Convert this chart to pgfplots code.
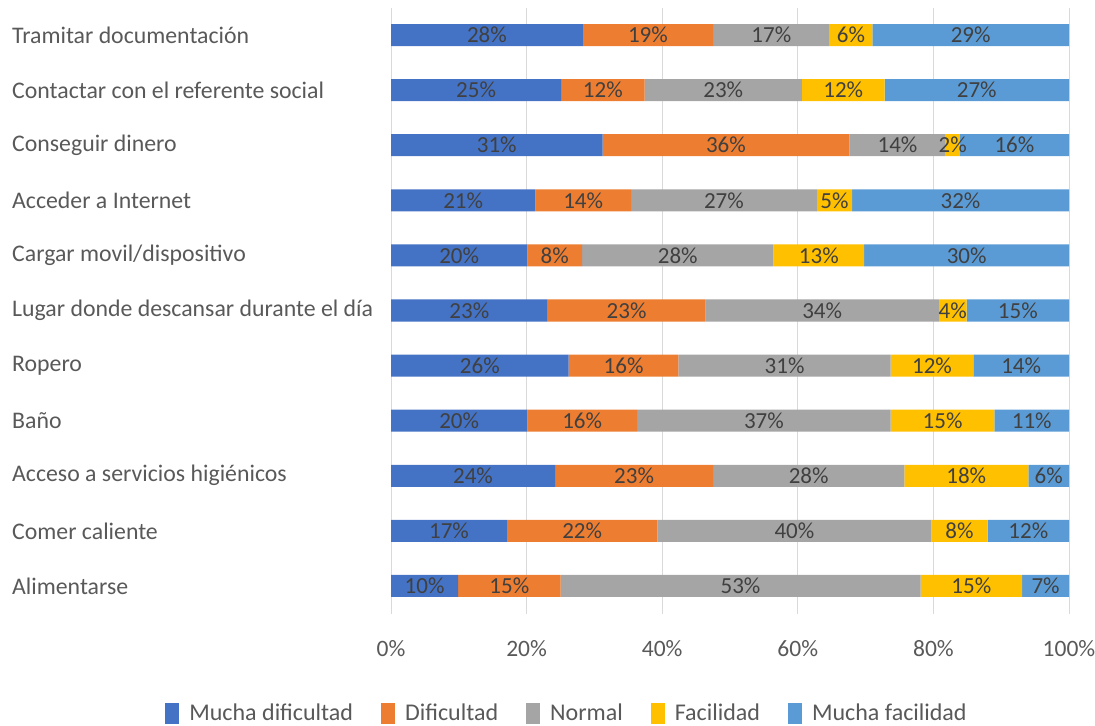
\documentclass[border=0pt]{standalone}
\usepackage{pgfplots}
\pgfplotsset{compat=1.18}
\usepackage{pgfplotstable}
\usepackage{fontspec}
\setmainfont{Carlito}
\definecolor{cA}{HTML}{4472C4}
\definecolor{cB}{HTML}{ED7D31}
\definecolor{cC}{HTML}{A5A5A5}
\definecolor{cD}{HTML}{FFC000}
\definecolor{cE}{HTML}{5B9BD5}
\definecolor{txt}{HTML}{595959}
\definecolor{lbl}{HTML}{404040}
\definecolor{grd}{HTML}{D9D9D9}
\pgfplotstableread{
idx md d n f mf
0 28.3 19.2 17.2 6.3 29.0
1 25.1 12.3 23.2 12.2 27.2
2 31.2 36.4 14.2 2.1 16.1
3 21.3 14.1 27.4 5.2 32.0
4 20.1 8.1 28.2 13.4 30.2
5 23.1 23.3 34.4 4.1 15.1
6 26.2 16.2 31.3 12.2 14.1
7 20.1 16.2 37.4 15.3 11.0
8 24.2 23.3 28.2 18.3 6.0
9 17.1 22.2 40.4 8.3 12.0
10 9.9 15.1 53.1 15.0 6.9
}\datatab
\begin{document}
\begin{tikzpicture}
\path[use as bounding box] (0,0) rectangle (1095bp,726bp);
\begin{axis}[
  at={(391bp,112.5bp)}, anchor=south west,
  scale only axis, width=678bp, height=606bp,
  xbar stacked, bar width=0.4,
  xmin=0, xmax=100, ymin=-0.5, ymax=10.5, y dir=reverse,
  axis line style={draw=none},
  xtick={0,20,...,100}, xmajorgrids, grid style={grd, line width=1bp},
  major tick length=0,
  /pgf/number format/assume math mode=true,
  xticklabel={\pgfmathprintnumber{\tick}\%},
  xticklabel style={font=\fontsize{23.5bp}{28bp}\selectfont, text=txt, inner sep=0pt, anchor=center, yshift=-35bp},
  ytick={0,...,10},
  yticklabels={Tramitar documentación, Contactar con el referente social, Conseguir dinero, Acceder a Internet, Cargar movil/dispositivo, Lugar donde descansar durante el día, Ropero, Baño, Acceso a servicios higiénicos, Comer caliente, Alimentarse},
  yticklabel style={font=\fontsize{23.8bp}{28bp}\selectfont, text=txt, anchor=west, inner sep=0pt, xshift=-379bp},
  visualization depends on=rawx \as \rawx,
  nodes near coords={\pgfmathprintnumber[fixed,precision=0]{\rawx}\%},
  every node near coord/.append style={anchor=center, inner sep=0pt, font=\fontsize{23bp}{28bp}\selectfont, text=lbl},
  legend image code/.code={\fill[#1] (0bp,-10.5bp) rectangle (14bp,10.5bp);},
  legend style={at={(0.2596,-0.1642)}, anchor=center, draw=none, legend columns=5,
    font=\fontsize{24bp}{28bp}\selectfont, text=txt,
    /tikz/every odd column/.append style={column sep=8bp},
    /tikz/every even column/.append style={column sep=26bp}},
]
\addplot[fill=cA, draw=none] table[x=md, y=idx] {\datatab};
\addlegendentry{Mucha dificultad}
\addplot[fill=cB, draw=none] table[x=d, y=idx] {\datatab};
\addlegendentry{Dificultad}
\addplot[fill=cC, draw=none] table[x=n, y=idx] {\datatab};
\addlegendentry{Normal}
\addplot[fill=cD, draw=none] table[x=f, y=idx] {\datatab};
\addlegendentry{Facilidad}
\addplot[fill=cE, draw=none] table[x=mf, y=idx] {\datatab};
\addlegendentry{Mucha facilidad}
\end{axis}
\end{tikzpicture}
\end{document}
